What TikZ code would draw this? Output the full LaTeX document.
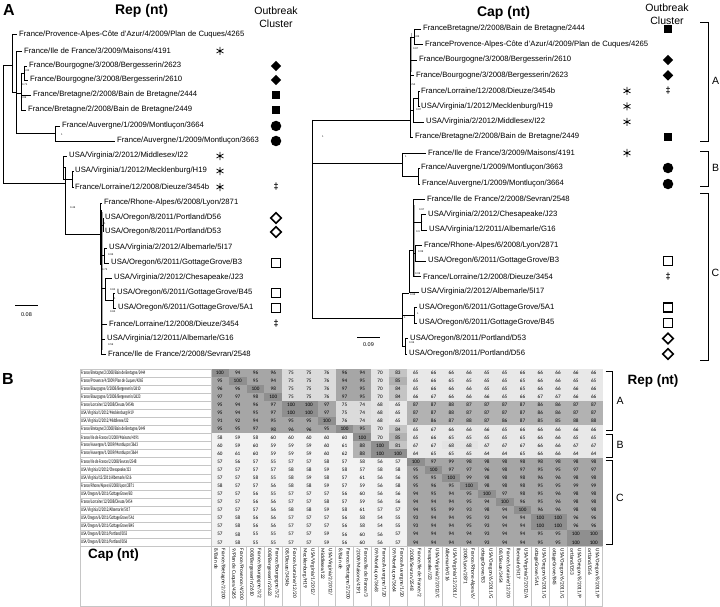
\documentclass[tikz,border=0pt]{standalone}
\usepackage{fontspec}
\usepackage{graphicx}
\setmainfont{Liberation Sans}
\newfontfamily\carl{Carlito}
\usetikzlibrary{shapes.geometric}
\newcommand\myrowlab[2]{\node[rowl] (rl#1) at (81,{372.7+8.08*(#1-1)}) {\scalebox{0.6}[1]{#2}};}
\newcommand\mycolh[3]{\node[colh] (ch#1) at ({211+17.8*(#1-0.5)},548.5) {#2\\#3};}
\begin{document}
\begin{tikzpicture}[x=1pt,y=-1pt,
  br/.style={line width=0.6pt},
  leaf/.style={anchor=west, inner sep=0pt, font=\fontsize{7.7}{8}\selectfont},
  ttl/.style={inner sep=0pt, font=\bfseries\fontsize{14}{16}\selectfont},
  panel/.style={inner sep=0pt, font=\bfseries\fontsize{16}{18}\selectfont},
  ob/.style={inner sep=0pt, font=\fontsize{10.5}{12}\selectfont},
  sup/.style={inner sep=0pt, anchor=west, font=\fontsize{2.6}{3}\selectfont},
  sbar/.style={inner sep=0pt, font=\fontsize{5.5}{6}\selectfont},
  fsq/.style={rectangle, fill=black, minimum size=7.5pt, inner sep=0pt},
  osq/.style={rectangle, draw=black, line width=1.5pt, minimum size=9pt, inner sep=0pt},
  fdiam/.style={diamond, fill=black, minimum size=10.5pt, inner sep=0pt},
  odiam/.style={diamond, draw=black, line width=1.6pt, minimum size=11pt, inner sep=0pt},
  fcirc/.style={circle, fill=black, minimum size=10.5pt, inner sep=0pt},
  dagg/.style={inner sep=0pt, font=\bfseries\fontsize{9}{9}\selectfont},
  rowl/.style={anchor=west, inner sep=0pt, font=\carl\fontsize{5.4}{6}\selectfont},
  num/.style={inner sep=0pt, font=\carl\fontsize{5.2}{6}\selectfont},
  colh/.style={rotate=-90, anchor=west, align=left, inner sep=0pt, font=\carl\fontsize{5.3}{7.6}\selectfont},
  pics/astk/.style={code={\draw[line width=0.75pt] (0,-4)--(0,4) (-3.46,-2)--(3.46,2) (-3.46,2)--(3.46,-2);}}
]
\fill[white] (0,0) rectangle (720,607);
\useasboundingbox (0,0) rectangle (720,607);

% ================= Panel A titles =================
\node[panel] (pA) at (9,10) {A};
\node[ttl] (tRep) at (141.5,10.5) {Rep (nt)};
\node[ob] (ob1) at (276,11) {Outbreak};
\node[ob] (ob2) at (276,24) {Cluster};
\node[ttl] (tCap) at (503.5,12.5) {Cap (nt)};
\node[ob] (ob3) at (667,7.5) {Outbreak};
\node[ob] (ob4) at (667,21) {Cluster};

% ================= Left tree (Rep) =================
\draw[gray!70, line width=1.8pt] (102.5,212)--(102.5,350);
\draw[br] (3,65)--(3,183) (3,65)--(12,65);
\draw[br] (12,34)--(12,92) (12,34)--(17,34) (12,92)--(16,92);
\draw[br] (16,51)--(16,133) (16,51)--(22,51) (16,93)--(21,93);
\draw[br] (21,73)--(21,110) (21,73)--(24,73) (24,66)--(24,80) (24,66)--(27,66) (24,80)--(28,80);
\draw[br] (21,95)--(31,95) (21,110)--(26,110);
\draw[br] (16,133)--(55,133) (55,126)--(55,141) (55,126)--(60,126) (55,141)--(115,141);
\draw[br] (3,183)--(65,183);
\draw[br] (63,156)--(63,179) (63,156)--(67,156) (63,179)--(72,179) (72,171)--(72,187) (72,171)--(73.5,171) (72,187)--(73.5,187);
\draw[br] (63,167)--(65,167) (65,167)--(65,234) (65,234)--(100,234);
\draw[br] (100,203)--(100,265) (100,203)--(102,203);
\draw[br] (101,210)--(101,354);
\draw[br] (101,225)--(103,225) (103,218)--(103,232);
\draw[br] (102,255)--(104,255) (104,248)--(104,263) (104,248)--(107,248) (104,263)--(109,263);
\draw[br] (102,288)--(105,288) (105,278)--(105,300) (105,278)--(112,278) (105,300)--(113,300) (113,293)--(113,308) (113,293)--(115,293) (113,308)--(116,308);
\draw[br] (101,324)--(107,324) (101,339)--(105,339) (101,354)--(106,354);

\node[leaf] (l1) at (19,34) {France/Provence-Alpes-Côte d'Azur/4/2009/Plan de Cuques/4265};
\node[leaf] (l2) at (24,51) {France/Ile de France/3/2009/Maisons/4191};
\node[leaf] (l3) at (29,66) {France/Bourgogne/3/2008/Bergesserin/2623};
\node[leaf] (l4) at (30,80) {France/Bourgogne/3/2008/Bergesserin/2610};
\node[leaf] (l5) at (33,95) {France/Bretagne/2/2008/Bain de Bretagne/2444};
\node[leaf] (l6) at (28,110) {France/Bretagne/2/2008/Bain de Bretagne/2449};
\node[leaf] (l7) at (62,126) {France/Auvergne/1/2009/Montluçon/3664};
\node[leaf] (l8) at (117,141) {France/Auvergne/1/2009/Montluçon/3663};
\node[leaf] (l9) at (69,156) {USA/Virginia/2/2012/Middlesex/I22};
\node[leaf] (l10) at (75,171) {USA/Virginia/1/2012/Mecklenburg/H19};
\node[leaf] (l11) at (75,187) {France/Lorraine/12/2008/Dieuze/3454b};
\node[leaf] (l12) at (104,203) {France/Rhone-Alpes/6/2008/Lyon/2871};
\node[leaf] (l13) at (105,218) {USA/Oregon/8/2011/Portland/D56};
\node[leaf] (l14) at (105,232) {USA/Oregon/8/2011/Portland/D53};
\node[leaf] (l15) at (109,248) {USA/Virginia/2/2012/Albemarle/5I17};
\node[leaf] (l16) at (111,263) {USA/Oregon/6/2011/GottageGrove/B3};
\node[leaf] (l17) at (114,278) {USA/Virginia/2/2012/Chesapeake/J23};
\node[leaf] (l18) at (117,293) {USA/Oregon/6/2011/GottageGrove/B45};
\node[leaf] (l19) at (118,308) {USA/Oregon/6/2011/GottageGrove/5A1};
\node[leaf] (l20) at (109,324) {France/Lorraine/12/2008/Dieuze/3454};
\node[leaf] (l21) at (107,339) {USA/Virginia/12/2011/Albemarle/G16};
\node[leaf] (l22) at (108,354) {France/Ile de France/2/2008/Sevran/2548};

\node[sup] (ls1) at (24,71) {0.95};
\node[sup] (ls2) at (22,85) {0.72};
\node[sup] (ls3) at (21,98) {0.99};
\node[sup] (ls4) at (61,134.5) {1};
\node[sup] (ls5) at (72,176) {1};
\node[sup] (ls6) at (70,208) {0.46};
\node[sup] (ls7) at (104,224) {1};
\node[sup] (ls8) at (108,255) {0.96};
\node[sup] (ls9) at (102,270) {0.75};
\node[sup] (ls10) at (110,290) {0.84};
\node[sup] (ls11) at (114,299) {1};
\node[sup] (ls12) at (110,312) {0.84};
\node[sup] (ls13) at (108,345) {0.59};

\draw[br] (15,305)--(38,305);
\node[sbar] (sb1) at (26.5,315) {0.08};

\pic at (220,51) {astk};
\pic at (220,156) {astk};
\pic at (220,171) {astk};
\pic at (220,187) {astk};
\node[fdiam] (lm3) at (276,66) {};
\node[fdiam] (lm4) at (276,80) {};
\node[fsq] (lm5) at (276,95) {};
\node[fsq] (lm6) at (276,110) {};
\node[fcirc] (lm7) at (276,126) {};
\node[fcirc] (lm8) at (276,141) {};
\node[dagg] (lm11) at (276,187) {\ddag};
\node[odiam] (lm13) at (276,218) {};
\node[odiam] (lm14) at (276,232) {};
\node[osq] (lm16) at (276,263) {};
\node[osq] (lm18) at (276,293) {};
\node[osq] (lm19) at (276,308) {};
\node[dagg] (lm20) at (276,324) {\ddag};

% ================= Right tree (Cap) =================
\draw[gray!70, line width=1.5pt] (411.5,33)--(411.5,72);
\draw[gray!70, line width=1.5pt] (414.3,205)--(414.3,277);
\draw[br] (312,120)--(312,318) (312,120)--(410,120);
\draw[br] (410,37)--(410,137) (410,37)--(414,37) (414,29)--(414,44.5) (414,29)--(421,29) (414,44.5)--(423,44.5);
\draw[br] (410,60)--(417,60) (410,75.4)--(414,75.4);
\draw[br] (410,110)--(413,110) (413,98)--(413,121.9) (413,98)--(418,98) (418,90.9)--(418,106.4) (418,90.9)--(419.5,90.9) (418,106.4)--(419.5,106.4) (413,121.9)--(424,121.9);
\draw[br] (410,137)--(413,137);
\draw[br] (312,163)--(402,163) (402,153)--(402,176) (402,153)--(426,153) (402,176)--(418,176) (418,168)--(418,184) (418,168)--(419.5,168) (418,184)--(420,184);
\draw[br] (312,318)--(402,318) (402,293)--(402,346);
\draw[br] (402,293)--(409,293) (409,250)--(409,292) (409,292)--(419,292) (409,250)--(413,250);
\draw[br] (413,199)--(413,277) (413,199)--(425,199);
\draw[br] (413,222)--(421,222) (421,214.5)--(421,230) (421,214.5)--(426,214.5) (421,230)--(427,230);
\draw[br] (413,253)--(415,253) (415,245.5)--(415,261) (415,245.5)--(422,245.5) (415,261)--(426,261);
\draw[br] (413,276.5)--(421,276.5);
\draw[br] (402,315)--(414,315) (414,307.5)--(414,323) (414,307.5)--(417,307.5) (414,323)--(417,323);
\draw[br] (402,346)--(405,346) (405,338.5)--(405,354) (405,338.5)--(408,338.5) (405,354)--(407,354);

\node[leaf] (r1) at (423,29) {FranceBretagne/2/2008/Bain de Bretagne/2444};
\node[leaf] (r2) at (425,44.5) {FranceProvence-Alpes-Côte d'Azur/4/2009/Plan de Cuques/4265};
\node[leaf] (r3) at (419,60) {France/Bourgogne/3/2008/Bergesserin/2610};
\node[leaf] (r4) at (416,75.4) {France/Bourgogne/3/2008/Bergesserin/2623};
\node[leaf] (r5) at (421,90.9) {France/Lorraine/12/2008/Dieuze/3454b};
\node[leaf] (r6) at (421,106.4) {USA/Virginia/1/2012/Mecklenburg/H19};
\node[leaf] (r7) at (426,121.9) {USA/Virginia/2/2012/Middlesex/I22};
\node[leaf] (r8) at (415,137) {France/Bretagne/2/2008/Bain de Bretagne/2449};
\node[leaf] (r9) at (428,153) {France/Ile de France/3/2009/Maisons/4191};
\node[leaf] (r10) at (421,168) {France/Auvergne/1/2009/Montluçon/3663};
\node[leaf] (r11) at (422,184) {France/Auvergne/1/2009/Montluçon/3664};
\node[leaf] (r12) at (427,199) {France/Ile de France/2/2008/Sevran/2548};
\node[leaf] (r13) at (428,214.5) {USA/Virginia/2/2012/Chesapeake/J23};
\node[leaf] (r14) at (429,230) {USA/Virginia/12/2011/Albemarle/G16};
\node[leaf] (r15) at (424,245.5) {France/Rhone-Alpes/6/2008/Lyon/2871};
\node[leaf] (r16) at (428,261) {USA/Oregon/6/2011/GottageGrove/B3};
\node[leaf] (r17) at (423,276.5) {France/Lorraine/12/2008/Dieuze/3454};
\node[leaf] (r18) at (421,292) {USA/Virginia/2/2012/Albemarle/5I17};
\node[leaf] (r19) at (419,307.5) {USA/Oregon/6/2011/GottageGrove/5A1};
\node[leaf] (r20) at (419,323) {USA/Oregon/6/2011/GottageGrove/B45};
\node[leaf] (r21) at (410,338.5) {USA/Oregon/8/2011/Portland/D53};
\node[leaf] (r22) at (409,354) {USA/Oregon/8/2011/Portland/D56};

\node[sup] (rs1) at (414,36.5) {0.86};
\node[sup] (rs2) at (413,48.5) {0.87};
\node[sup] (rs3) at (410,85) {0.54};
\node[sup] (rs4) at (418,98.5) {1};
\node[sup] (rs5) at (416,110) {0.87};
\node[sup] (rs6) at (322,137) {1};
\node[sup] (rs7) at (405,157) {1};
\node[sup] (rs8) at (419,210) {0.97};
\node[sup] (rs9) at (421,222) {1};
\node[sup] (rs10) at (416,232) {0.9};
\node[sup] (rs11) at (418,252) {0.99};
\node[sup] (rs12) at (415,273.5) {0.99};
\node[sup] (rs13) at (410,295) {0.98};
\node[sup] (rs14) at (404,318) {1};
\node[sup] (rs15) at (417,314) {1};
\node[sup] (rs16) at (409,343) {0.96};

\draw[br] (357,337)--(380,337);
\node[sbar] (sb2) at (368.5,345) {0.09};

\pic at (627,90.9) {astk};
\pic at (627,106.4) {astk};
\pic at (627,121.9) {astk};
\pic at (627,153) {astk};
\node[fsq] (rm1) at (668,29) {};
\node[fdiam] (rm3) at (668,60) {};
\node[fdiam] (rm4) at (668,75.4) {};
\node[dagg] (rm5) at (668,90.9) {\ddag};
\node[fsq] (rm8) at (668,137) {};
\node[fcirc] (rm10) at (668,168) {};
\node[fcirc] (rm11) at (668,184) {};
\node[osq] (rm16) at (668,261) {};
\node[dagg] (rm17) at (668,276.5) {\ddag};
\node[osq] (rm19) at (668,307.5) {};
\node[osq] (rm20) at (668,323) {};
\node[odiam] (rm21) at (668,338.5) {};
\node[odiam] (rm22) at (668,354) {};

% cluster brackets
\draw[line width=0.8pt] (700,22)--(708,22)--(708,141)--(700,141);
\draw[line width=0.8pt] (700,151)--(708,151)--(708,186)--(700,186);
\draw[line width=0.8pt] (700,193)--(708,193)--(708,360)--(700,360);
\node[ob] (cA) at (715.5,81) {A};
\node[ob] (cB) at (715.5,168) {B};
\node[ob] (cC) at (715.5,273) {C};

% ================= Panel B heatmap =================
\node[panel] (pB) at (8,378.5) {B};

\foreach \row [count=\i] in {
{100,94,96,96,75,75,76,96,94,70,83,65,66,66,66,65,65,66,66,66,66,66},
{95,100,95,94,75,75,76,94,95,70,85,65,66,65,65,65,65,65,66,66,65,65},
{96,96,100,98,75,75,76,97,95,70,84,65,66,66,66,65,65,65,66,66,66,66},
{97,97,98,100,75,75,76,97,95,70,84,66,67,66,66,66,65,66,67,67,66,66},
{95,94,96,97,100,100,97,75,74,68,65,87,87,88,87,87,87,87,86,86,87,87},
{95,94,95,97,100,100,97,75,74,68,65,87,87,88,87,87,87,87,86,86,87,87},
{91,92,94,95,95,95,100,76,74,68,65,87,86,87,88,87,86,87,85,85,88,88},
{95,95,97,98,96,96,95,100,95,70,84,65,67,66,66,66,65,66,66,66,66,66},
{58,59,58,60,60,60,60,60,100,70,85,65,66,65,65,65,65,65,66,66,65,65},
{60,59,60,59,59,59,60,61,88,100,81,67,67,68,68,67,67,67,66,66,67,67},
{60,61,60,59,59,59,60,62,88,100,100,64,65,65,65,64,64,65,66,66,64,64},
{57,56,57,55,57,57,58,57,58,56,57,100,97,99,98,98,98,98,98,98,98,98},
{57,57,57,57,58,58,59,58,57,58,58,95,100,97,97,96,98,97,95,95,97,97},
{57,57,58,55,58,59,58,57,61,56,56,95,95,100,99,98,98,98,96,96,98,98},
{58,57,57,56,58,58,59,57,59,56,58,95,96,95,100,98,98,98,95,95,99,99},
{57,57,56,55,57,57,57,56,60,56,56,94,95,94,95,100,97,98,95,96,98,98},
{57,57,56,56,57,57,58,57,59,56,56,94,94,94,95,94,100,96,95,96,98,98},
{57,57,57,56,58,58,59,58,61,57,57,94,95,99,93,98,94,100,96,96,98,98},
{57,58,56,56,57,57,57,56,58,54,55,93,94,94,95,93,94,94,100,100,96,96},
{57,58,56,56,57,57,57,56,58,54,55,93,94,94,95,93,94,94,100,100,96,96},
{57,58,55,55,57,57,59,56,60,56,57,94,94,94,94,93,94,94,95,95,100,100},
{57,58,55,55,57,57,59,56,60,56,57,94,94,94,94,93,94,94,95,95,100,100}} {
  \foreach \v [count=\j] in \row {
    \pgfmathtruncatemacro\g{\v>99 ? 44 : (\v>90 ? 35 : (\v>84 ? 30 : (\v>79 ? 23 : (\v>73 ? 14 : (\v>67 ? 11 : (\v>63 ? 9 : 5))))))}
    \fill[black!\g] ({211+17.8*(\j-1)},{368.66+8.08*(\i-1)}) rectangle ++(17.8,8.08);
    \node[num] (c-\i-\j) at ({211+17.8*(\j-0.5)},{372.7+8.08*(\i-1)}) {\v};
  }
}

\foreach \i in {1,...,22}
  \draw[gray!45, line width=0.3pt] (80,{368.66+8.08*(\i-1)}) rectangle (211,{368.66+8.08*\i});
\draw[gray!45, line width=0.3pt] (80,546.4) rectangle (602.6,606);
\foreach \k in {0,...,22}
  \draw[gray!45, line width=0.3pt] ({211+17.8*\k},546.4)--({211+17.8*\k},606);

\myrowlab{1}{France/Bretagne/2/2008/Bain de Bretagne/2444}
\myrowlab{2}{France/Provence/4/2009/Plan de Cuques/4265}
\myrowlab{3}{France/Bourgogne/3/2008/Bergesserin/2610}
\myrowlab{4}{France/Bourgogne/3/2008/Bergesserin/2623}
\myrowlab{5}{France/Lorraine/12/2008/Dieuze/3454b}
\myrowlab{6}{USA/Virginia/1/2012/Mecklenburg/H19}
\myrowlab{7}{USA/Virginia/2/2012/Middlesex/I22}
\myrowlab{8}{France/Bretagne/2/2008/Bain de Bretagne/2449}
\myrowlab{9}{France/Ile de France/3/2009/Maisons/4191}
\myrowlab{10}{France/Auvergne/1/2009/Montluçon/3663}
\myrowlab{11}{France/Auvergne/1/2009/Montluçon/3664}
\myrowlab{12}{France/Ile de France/2/2008/Sevran/2548}
\myrowlab{13}{USA/Virginia/2/2012/Chesapeake/J23}
\myrowlab{14}{USA/Virginia/12/2011/Albemarle/G16}
\myrowlab{15}{France/Rhone/Alpes/6/2008/Lyon/2871}
\myrowlab{16}{USA/Oregon/6/2011/GottageGrove/B3}
\myrowlab{17}{France/Lorraine/12/2008/Dieuze/3454}
\myrowlab{18}{USA/Virginia/2/2012/Albemarle/5I17}
\myrowlab{19}{USA/Oregon/6/2011/GottageGrove/5A1}
\myrowlab{20}{USA/Oregon/6/2011/GottageGrove/B45}
\myrowlab{21}{USA/Oregon/8/2011/Portland/D53}
\myrowlab{22}{USA/Oregon/8/2011/Portland/D56}

\mycolh{1}{France/Bretagne/2/200}{8/Bain de}
\mycolh{2}{France/Provence/4/200}{9/Plan de Cuques/4265}
\mycolh{3}{France/Bourgogne/3/2}{008/Bergesserin/2610}
\mycolh{4}{France/Bourgogne/3/2}{008/Bergesserin/2623}
\mycolh{5}{France/Lorraine/12/20}{08/Dieuze/3454b}
\mycolh{6}{USA/Virginia/1/2012/}{Mecklenburg/H19}
\mycolh{7}{USA/Virginia/2/2012/}{Middlesex/I22}
\mycolh{8}{France/Bretagne/2/200}{8/Bain de}
\mycolh{9}{France/Ile de France/3}{/2009/Maisons/4191}
\mycolh{10}{France/Auvergne/1/20}{09/Montluçon/3663}
\mycolh{11}{France/Auvergne/1/20}{09/Montluçon/3664}
\mycolh{12}{France/Ile de France/2}{/2008/Sevran/2548}
\mycolh{13}{USA/Virginia/2/2012/C}{hesapeake/J23}
\mycolh{14}{USA/Virginia/12/2011/}{Albemarle/G16}
\mycolh{15}{France/Rhone-Alpes/6/}{2008/Lyon/2871}
\mycolh{16}{USA/Oregon/6/2011/G}{ottageGrove/B3}
\mycolh{17}{France/Lorraine/12/20}{08/Dieuze/3454}
\mycolh{18}{USA/Virginia/2/2012/A}{lbemarle/5I17}
\mycolh{19}{USA/Oregon/6/2011/G}{ottageGrove/5A1}
\mycolh{20}{USA/Oregon/6/2011/G}{ottageGrove/B45}
\mycolh{21}{USA/Oregon/8/2011/P}{ortland/D53}
\mycolh{22}{USA/Oregon/8/2011/P}{ortland/D56}

\node[ttl, font=\bfseries\fontsize{13.5}{15}\selectfont] (hCap) at (113.5,555) {Cap (nt)};
\node[ttl, font=\bfseries\fontsize{13.5}{15}\selectfont] (hRep) at (653,381.5) {Rep (nt)};

\draw[line width=0.8pt] (605.5,371.5)--(612.3,371.5)--(612.3,430)--(605.5,430);
\draw[line width=0.8pt] (605.5,434)--(612.3,434)--(612.3,457)--(605.5,457);
\draw[line width=0.8pt] (605.5,460.7)--(612.3,460.7)--(612.3,544)--(605.5,544);
\node[ob] (hA) at (620,401) {A};
\node[ob] (hB) at (620,445) {B};
\node[ob] (hC) at (620,498) {C};
\end{tikzpicture}
\end{document}
